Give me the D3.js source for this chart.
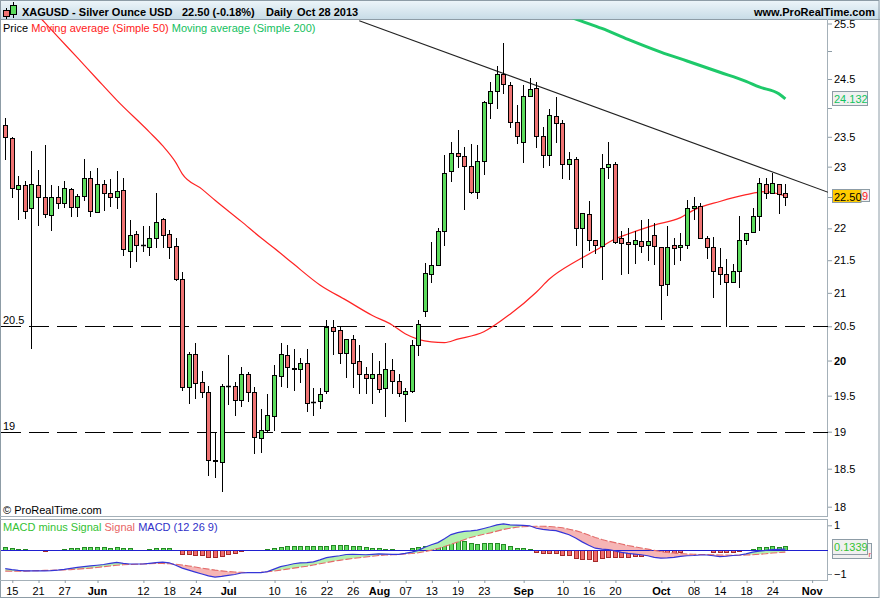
<!DOCTYPE html>
<html><head><meta charset="utf-8">
<script src="https://cdn.jsdelivr.net/npm/d3@7"></script>
<style>body{margin:0;background:#fff}svg{display:block;font-family:"Liberation Sans",Arial,sans-serif}</style>
</head><body><svg id="c" width="880" height="600"></svg>
<script>
// ---- DATA ----
const dates = [
"05-14","05-15","05-16","05-17","05-20","05-21","05-22","05-23","05-24","05-27","05-28","05-29","05-30","05-31",
"06-03","06-04","06-05","06-06","06-07","06-10","06-11","06-12","06-13","06-14","06-17","06-18","06-19","06-20","06-21","06-24","06-25","06-26","06-27","06-28",
"07-01","07-02","07-03","07-04","07-05","07-08","07-09","07-10","07-11","07-12","07-15","07-16","07-17","07-18","07-19","07-22","07-23","07-24","07-25","07-26","07-29","07-30","07-31",
"08-01","08-02","08-05","08-06","08-07","08-08","08-09","08-12","08-13","08-14","08-15","08-16","08-19","08-20","08-21","08-22","08-23","08-26","08-27","08-28","08-29","08-30",
"09-02","09-03","09-04","09-05","09-06","09-09","09-10","09-11","09-12","09-13","09-16","09-17","09-18","09-19","09-20","09-23","09-24","09-25","09-26","09-27","09-30",
"10-01","10-02","10-03","10-04","10-07","10-08","10-09","10-10","10-11","10-14","10-15","10-16","10-17","10-18","10-21","10-22","10-23","10-24","10-25","10-28"];
const futureDates = ["10-29","10-30","10-31","11-01","11-04","11-05","11-06"];

const opens = [23.70,23.48,22.64,22.69,22.32,22.70,22.50,22.22,22.51,22.40,
22.64,22.34,22.52,22.82,22.26,22.72,22.56,22.50,22.61,21.65,
21.91,21.74,21.70,21.85,22.15,21.91,21.72,21.21,19.62,20.10,
19.69,19.55,18.61,18.59,19.63,19.63,19.44,19.80,19.55,18.91,
19.02,19.22,19.78,20.08,19.89,19.88,19.96,19.41,19.43,19.56,
20.49,20.44,20.11,20.31,19.99,19.81,19.75,19.80,19.61,19.86,
19.71,19.52,19.56,20.23,20.72,21.29,21.43,21.96,22.92,23.23,
23.17,23.01,22.58,23.09,24.08,24.29,24.59,24.39,23.75,23.41,
24.20,24.34,23.52,23.20,23.86,23.73,23.05,23.13,22.00,22.23,
21.82,21.72,23.00,23.04,21.84,21.78,21.75,21.80,21.73,21.89,
21.70,21.13,21.73,21.70,21.73,22.32,22.36,21.85,21.71,21.39,
21.29,21.17,21.34,21.81,21.94,22.20,22.72,22.57,22.72,22.56];
const highs = [23.82,23.50,22.84,22.77,23.26,22.95,23.36,22.70,22.68,22.77,
22.65,22.55,23.13,22.92,22.98,22.78,22.79,22.92,22.82,22.13,
21.95,22.03,22.03,22.57,22.16,21.97,21.85,21.32,20.13,20.25,
19.85,19.64,19.00,19.66,20.08,19.70,19.91,19.84,19.62,19.32,
19.53,19.93,20.26,20.22,20.16,20.04,20.16,19.61,19.61,20.60,
20.59,20.49,20.31,20.37,20.22,19.91,20.11,19.99,20.26,20.02,
19.80,19.61,20.30,20.59,21.45,21.78,22.00,23.20,23.41,23.62,
23.33,23.38,23.36,24.12,24.44,24.73,25.15,24.44,24.04,24.39,
24.52,24.44,23.66,23.98,24.18,23.78,23.24,23.16,22.25,22.43,
21.82,23.21,23.41,23.07,21.96,22.01,21.95,22.13,22.15,22.09,
21.70,22.03,21.85,21.92,22.46,22.50,22.40,21.88,21.86,21.69,
21.52,21.44,22.20,21.93,22.32,22.81,22.81,22.89,22.72,22.72];
const lows = [23.13,22.50,22.15,22.17,20.18,22.06,22.18,21.97,22.33,22.34,
22.19,22.20,22.46,22.19,22.26,22.29,22.36,22.33,21.58,21.40,
21.48,21.64,21.58,21.70,21.70,21.53,21.19,19.58,19.40,19.47,
19.48,18.42,18.39,18.21,19.39,19.23,19.36,19.42,18.71,18.73,
19.01,19.03,19.63,19.62,19.58,19.69,19.28,19.23,19.33,19.54,
20.10,19.97,19.77,19.62,19.54,19.54,19.40,19.55,19.21,19.54,
19.50,19.15,19.55,20.08,20.65,21.17,21.43,21.73,22.77,23.00,
22.31,22.56,22.48,22.88,23.82,23.99,24.26,23.67,23.39,23.08,
24.20,23.33,23.00,23.03,23.41,22.81,22.80,21.74,21.40,21.66,
21.61,21.21,22.81,21.77,21.29,21.30,21.46,21.63,21.50,21.44,
20.61,20.96,21.44,21.50,21.69,22.15,21.84,21.54,20.94,21.13,
20.51,21.17,21.09,21.76,21.94,21.97,22.49,22.57,22.25,22.38];
const closes = [23.49,22.65,22.69,22.27,22.72,22.50,22.23,22.51,22.40,22.65,
22.34,22.52,22.82,22.27,22.72,22.56,22.50,22.60,21.67,21.89,
21.73,21.73,21.85,22.10,21.89,21.70,21.21,19.62,20.10,19.68,
19.55,18.61,18.60,19.63,19.64,19.44,19.81,19.55,18.93,19.02,
19.23,19.79,20.10,19.91,19.88,19.96,19.40,19.41,19.52,20.49,
20.43,20.11,20.31,19.97,19.80,19.75,19.81,19.60,19.88,19.71,
19.54,19.56,20.23,20.54,21.30,21.43,21.96,22.90,23.23,23.17,
23.01,22.58,23.09,24.10,24.29,24.59,24.41,23.75,23.52,24.21,
24.32,23.52,23.19,23.88,23.73,23.05,23.12,22.00,22.25,21.82,
21.74,22.98,23.04,21.78,21.77,21.75,21.81,21.72,21.80,21.72,
21.12,21.71,21.69,21.74,22.32,22.36,21.85,21.70,21.34,21.29,
21.17,21.34,21.81,21.93,22.20,22.73,22.56,22.73,22.55,22.50];

const ma50Dates = ["05-14","05-17","05-22","05-24","05-29","06-03","06-06","06-13","06-17","06-19","06-20","06-25","06-27","07-03","07-08","07-10","07-15","07-19","07-25","07-31","08-05","08-07","08-13","08-15","08-19","08-23","08-29","09-04","09-06","09-12","09-17","09-20","09-24","09-30","10-04","10-08","10-14","10-18","10-23","10-25","10-28"];
const ma50Values = [26.30,25.90,25.52,25.26,24.88,24.50,24.13,23.58,23.35,23.07,22.88,22.63,22.45,22.11,21.85,21.69,21.44,21.12,20.89,20.66,20.52,20.39,20.27,20.26,20.31,20.42,20.68,21.01,21.21,21.48,21.65,21.83,21.91,22.05,22.17,22.29,22.43,22.54,22.59,22.55,22.52];
const ma200Dates = ["09-10","09-13","09-18","09-24","10-01","10-07","10-14","10-18","10-22","10-25","10-28"];
const ma200Values = [25.67,25.54,25.41,25.21,24.98,24.82,24.62,24.46,24.36,24.24,24.15];

const trendDates = ["07-29","11-06"];
const trendValues = [25.55,22.56];

const supportLevels = [20.5, 19];

const macd = [-0.78,-0.82,-0.85,-0.87,-0.87,-0.87,-0.87,-0.86,-0.84,-0.81,
-0.77,-0.73,-0.70,-0.67,-0.64,-0.61,-0.56,-0.52,-0.56,-0.59,
-0.59,-0.59,-0.56,-0.53,-0.51,-0.54,-0.64,-0.76,-0.84,-0.92,
-1.00,-1.08,-1.13,-1.10,-1.06,-1.02,-0.96,-0.94,-0.94,-0.94,
-0.90,-0.80,-0.70,-0.64,-0.58,-0.54,-0.53,-0.50,-0.42,-0.33,
-0.29,-0.25,-0.20,-0.19,-0.20,-0.21,-0.19,-0.17,-0.18,-0.19,
-0.19,-0.15,-0.10,-0.03,0.10,0.20,0.29,0.45,0.62,0.70,
0.75,0.77,0.80,0.87,0.94,1.02,1.06,1.02,1.01,1.00,
0.98,0.88,0.83,0.80,0.78,0.70,0.61,0.48,0.32,0.18,
0.06,0.02,0.00,-0.05,-0.11,-0.15,-0.18,-0.21,-0.25,-0.32,
-0.35,-0.34,-0.32,-0.28,-0.25,-0.24,-0.22,-0.22,-0.25,-0.29,
-0.27,-0.24,-0.22,-0.17,-0.10,-0.06,-0.03,0.00,0.01,0.02];
const signal = [-0.88,-0.89,-0.89,-0.88,-0.87,-0.86,-0.85,-0.85,-0.84,-0.83,
-0.82,-0.80,-0.78,-0.76,-0.73,-0.70,-0.67,-0.64,-0.62,-0.61,
-0.60,-0.59,-0.58,-0.57,-0.57,-0.58,-0.60,-0.63,-0.67,-0.71,
-0.76,-0.80,-0.84,-0.87,-0.90,-0.92,-0.93,-0.94,-0.94,-0.93,
-0.91,-0.88,-0.84,-0.80,-0.76,-0.72,-0.68,-0.63,-0.58,-0.53,
-0.48,-0.44,-0.40,-0.36,-0.33,-0.30,-0.27,-0.24,-0.22,-0.21,
-0.20,-0.18,-0.16,-0.13,-0.08,-0.02,0.05,0.13,0.22,0.31,
0.41,0.50,0.57,0.63,0.69,0.76,0.83,0.88,0.92,0.94,
0.95,0.96,0.96,0.95,0.93,0.90,0.84,0.78,0.70,0.60,
0.50,0.42,0.35,0.29,0.23,0.17,0.12,0.07,0.02,-0.03,
-0.08,-0.12,-0.14,-0.16,-0.18,-0.19,-0.20,-0.20,-0.21,-0.22,
-0.22,-0.23,-0.23,-0.22,-0.21,-0.19,-0.17,-0.14,-0.12,-0.10];
const hist = [0.10,0.08,0.04,0.01,0,0,-0.05,-0.01,0,0.03,
0.05,0.06,0.09,0.09,0.09,0.09,0.08,0.12,0.05,0.05,
0,0,0.01,0.05,0.05,0.05,-0.03,-0.16,-0.18,-0.21,
-0.22,-0.31,-0.31,-0.28,-0.18,-0.12,-0.06,0,0,0,
0.01,0.08,0.12,0.16,0.16,0.16,0.16,0.13,0.16,0.17,
0.19,0.19,0.19,0.17,0.14,0.10,0.08,0.05,0.04,0.03,
0,0,0.05,0.10,0.15,0.20,0.26,0.30,0.39,0.39,
0.34,0.26,0.22,0.26,0.26,0.26,0.22,0.14,0.06,0.06,
0.03,-0.08,-0.14,-0.14,-0.14,-0.23,-0.23,-0.35,-0.39,-0.39,
-0.45,-0.35,-0.29,-0.29,-0.29,-0.29,-0.26,-0.26,-0.23,-0.23,
-0.23,-0.20,-0.14,-0.11,-0.03,-0.02,-0.01,-0.02,-0.08,-0.08,
-0.11,-0.08,-0.07,-0.02,0.04,0.10,0.10,0.15,0.11,0.134];

const priceTicks = [25.5,24.5,23.5,23,22,21.5,21,20.5,20,19.5,19,18.5,18];
const priceMinorTicks = [25,24,22.5];
const macdTicks = [1,-1];
const dateTickDates = ["05-15","05-21","05-27","06-03","06-12","06-18","06-24","07-01","07-10","07-16","07-22","07-26","08-01","08-07","08-13","08-19","08-23","09-02","09-10","09-16","09-20","10-01","10-08","10-14","10-18","10-24","11-01"];
const dateTickLabels = ["15","21","27","Jun","12","18","24","Jul","10","16","22","26","Aug","07","13","19","23","Sep","10","16","20","Oct","08","14","18","24","Nov"];
const monthLabels = ["Jun","Jul","Aug","Sep","Oct","Nov"];

// ---- SCALES ----
const allDates = dates.concat(futureDates);
const x = d3.scaleLinear().domain([-0.8, 125.5]).range([0, 828]);
const xd = d => x(allDates.indexOf(d));
const y = d3.scaleLog().domain([18, 24.5]).range([506.7, 79]);
const ym = d3.scaleLinear().domain([-1, 1]).range([574, 525.3]);

const svg = d3.select("#c");
const defs = svg.append("defs");
const gr = defs.append("linearGradient").attr("id","hdr").attr("x1",0).attr("y1",0).attr("x2",0).attr("y2",1);
gr.append("stop").attr("offset","0%").attr("stop-color","#eef6fa");
gr.append("stop").attr("offset","100%").attr("stop-color","#c8dce7");
defs.append("clipPath").attr("id","mainClip").append("rect").attr("x",1).attr("y",19.5).attr("width",827).attr("height",496.5);
defs.append("clipPath").attr("id","macdClip").append("rect").attr("x",1).attr("y",520).attr("width",827).attr("height",60);

svg.append("rect").attr("width",880).attr("height",600).attr("fill","#fff");

// header
svg.append("rect").attr("x",0).attr("y",0).attr("width",880).attr("height",19).attr("fill","url(#hdr)");
svg.append("line").attr("x1",0).attr("x2",880).attr("y1",19.5).attr("y2",19.5).attr("stroke","#8d9ca6");
// icon
const ic = svg.append("g");
ic.append("line").attr("x1",6.5).attr("x2",6.5).attr("y1",8).attr("y2",19).attr("stroke","#000");
ic.append("rect").attr("x",3.5).attr("y",10.5).attr("width",6).attr("height",6).attr("fill","#ef7373").attr("stroke","#000");
ic.append("line").attr("x1",13.5).attr("x2",13.5).attr("y1",2).attr("y2",18).attr("stroke","#000");
ic.append("rect").attr("x",10.5).attr("y",5.5).attr("width",6).attr("height",9).attr("fill","#5cdc5c").attr("stroke","#000");

const hdrText = [["XAGUSD - Silver Ounce USD",22],["22.50 (-0.18%)",182],["Daily",266],["Oct 28 2013",297]];
svg.selectAll(".ht").data(hdrText).join("text").attr("x",d=>d[1]).attr("y",15.5)
  .attr("font-size",11).attr("font-weight","bold").text(d=>d[0]);
svg.append("text").attr("x",875).attr("y",15.5).attr("text-anchor","end").attr("font-size",11).attr("font-weight","bold").text("www.ProRealTime.com");

// frame
svg.append("rect").attr("x",0.5).attr("y",0.5).attr("width",878.5).attr("height",597).attr("fill","none").attr("stroke","#8d9ca6");
svg.append("line").attr("x1",0).attr("x2",828).attr("y1",516.5).attr("y2",516.5).attr("stroke","#a4b0b8");
svg.append("line").attr("x1",0).attr("x2",828).attr("y1",519.5).attr("y2",519.5).attr("stroke","#a4b0b8");
svg.append("line").attr("x1",0).attr("x2",828).attr("y1",580.5).attr("y2",580.5).attr("stroke","#a4b0b8");
svg.append("line").attr("x1",827.5).attr("x2",827.5).attr("y1",19).attr("y2",517).attr("stroke","#a4b0b8");
svg.append("line").attr("x1",827.5).attr("x2",827.5).attr("y1",519).attr("y2",581).attr("stroke","#a4b0b8");

// legend
const leg = svg.append("text").attr("x",3).attr("y",32).attr("font-size",11);
leg.append("tspan").attr("fill","#000").text("Price ");
leg.append("tspan").attr("fill","#ff1a1a").text("Moving average (Simple 50) ");
leg.append("tspan").attr("fill","#14c060").text("Moving average (Simple 200)");

// main plot
const main = svg.append("g").attr("clip-path","url(#mainClip)");
supportLevels.forEach(v=>{
  const yy = Math.round(y(v))+0.5;
  main.append("line").attr("x1",1).attr("x2",828).attr("y1",yy).attr("y2",yy)
    .attr("stroke","#000").attr("stroke-dasharray","20,8");
  main.append("text").attr("x",3).attr("y",yy-3).attr("font-size",11).text(String(v));
});

const lineGen = d3.line().x(d=>xd(d[0])).y(d=>y(d[1])).curve(d3.curveMonotoneX);
main.append("path").datum(ma50Dates.map((d,i)=>[d,ma50Values[i]])).attr("d",lineGen)
  .attr("fill","none").attr("stroke","#ff2424").attr("stroke-width",1.2);
main.append("path").datum(ma200Dates.map((d,i)=>[d,ma200Values[i]])).attr("d",lineGen)
  .attr("fill","none").attr("stroke","#1ec96a").attr("stroke-width",3);
main.append("path").datum(trendDates.map((d,i)=>[d,trendValues[i]])).attr("d",d3.line().x(d=>xd(d[0])).y(d=>y(d[1])))
  .attr("fill","none").attr("stroke","#222").attr("stroke-width",1.1);

const cg = main.append("g");
dates.forEach((d,i)=>{
  const cx = Math.round(xd(d));
  const o = opens[i], c = closes[i];
  cg.append("line").attr("x1",cx+0.5).attr("x2",cx+0.5).attr("y1",Math.round(y(highs[i]))).attr("y2",Math.round(y(lows[i]))+1)
    .attr("stroke","#000");
  const yt = Math.round(y(Math.max(o,c))), yb = Math.round(y(Math.min(o,c)));
  if (yb - yt < 1) {
    cg.append("line").attr("x1",cx-2).attr("x2",cx+3).attr("y1",yt+0.5).attr("y2",yt+0.5).attr("stroke","#000").attr("stroke-width",1.5);
  } else {
    cg.append("rect").attr("x",cx-1.5).attr("y",yt+0.5).attr("width",4).attr("height",yb-yt)
      .attr("fill", c>o ? "#5cdc5c" : "#ef7373").attr("stroke","#000");
  }
});

svg.append("text").attr("x",3).attr("y",514).attr("font-size",11).text("\u00a9 ProRealTime.com");

// price axis
const pAxis = svg.append("g").attr("transform","translate(828,0)")
  .call(d3.axisRight(y).tickValues(priceTicks).tickFormat(d3.format("")).tickSize(4).tickPadding(2).tickSizeOuter(0));
pAxis.select(".domain").remove();
pAxis.selectAll("line").attr("stroke","#8d9ca6");
pAxis.selectAll("text").attr("font-size",11).attr("font-family","Liberation Sans, Arial, sans-serif").attr("fill","#000")
  .attr("font-weight",d=>d===20?"bold":"normal");
svg.selectAll(".minor").data(priceMinorTicks).join("line").attr("x1",828).attr("x2",832)
  .attr("y1",d=>Math.round(y(d))+0.5).attr("y2",d=>Math.round(y(d))+0.5).attr("stroke","#8d9ca6");

// value labels
const lab = svg.append("g").attr("font-size",11);
lab.append("rect").attr("x",832.5).attr("y",91.5).attr("width",35).attr("height",14).attr("fill","#f0f0f0").attr("stroke","#8d9ca6");
lab.append("text").attr("x",834).attr("y",102.5).attr("fill","#12c45e").text("24.132");
lab.append("rect").attr("x",832.5).attr("y",189.5).attr("width",37).attr("height",12).attr("fill","#f0f0f0").attr("stroke","#8d9ca6");
lab.append("text").attr("x",862).attr("y",199.5).attr("fill","#ff1a1a").text("9");
lab.append("rect").attr("x",832.5).attr("y",189.5).attr("width",28.5).attr("height",13).attr("fill","#ffcc00").attr("stroke","#8d9ca6");
lab.append("text").attr("x",834).attr("y",200.5).attr("fill","#000").text("22.50");

// MACD panel
const mp = svg.append("g").attr("clip-path","url(#macdClip)");
const xi = (dd,i)=>x(i);
defs.append("clipPath").attr("id","aboveSig").append("path")
  .attr("d", d3.area().x(xi).y0(519).y1((d,i)=>ym(signal[i]))(macd));
defs.append("clipPath").attr("id","belowSig").append("path")
  .attr("d", d3.area().x(xi).y0(581).y1((d,i)=>ym(signal[i]))(macd));
const between = d3.area().x(xi).y0((d,i)=>ym(signal[i])).y1((d,i)=>ym(macd[i]));

const y0 = Math.round(ym(0))+0.5;
hist.forEach((h,i)=>{
  const cx = Math.round(x(i));
  const yv = Math.round(ym(h));
  const hh = Math.abs(yv - Math.round(ym(0)));
  if (hh < 1) return;
  mp.append("rect").attr("x",cx-1.5).attr("y",(h>0?yv:Math.round(ym(0)))+0.5).attr("width",4).attr("height",hh)
    .attr("fill",h>0?"#62dc62":"#ef6b6b").attr("stroke",h>0?"#238a23":"#a52a2a");
});
mp.append("path").datum(macd).attr("d",between).attr("fill","#b4f0ae").attr("clip-path","url(#aboveSig)");
mp.append("path").datum(macd).attr("d",between).attr("fill","#f6b5b5").attr("clip-path","url(#belowSig)");
mp.append("line").attr("x1",1).attr("x2",828).attr("y1",y0).attr("y2",y0).attr("stroke","#1f1fd0");
mp.append("path").datum(signal).attr("d",d3.line().x(xi).y(d=>ym(d)))
  .attr("fill","none").attr("stroke","#e46a6a").attr("stroke-width",1.1).attr("stroke-dasharray","7,2");
mp.append("path").datum(macd).attr("d",d3.line().x(xi).y(d=>ym(d)))
  .attr("fill","none").attr("stroke","#3535d8").attr("stroke-width",1.2);

const ml = svg.append("text").attr("x",3).attr("y",530.5).attr("font-size",11);
ml.append("tspan").attr("fill","#33c233").text("MACD minus Signal ");
ml.append("tspan").attr("fill","#e86464").text("Signal ");
ml.append("tspan").attr("fill","#3030c8").text("MACD (12 26 9)");

const mAxis = svg.append("g").attr("transform","translate(828,0)")
  .call(d3.axisRight(ym).tickValues(macdTicks).tickFormat(d3.format("")).tickSize(4).tickPadding(2).tickSizeOuter(0));
mAxis.select(".domain").remove();
mAxis.selectAll("line").attr("stroke","#8d9ca6");
mAxis.selectAll("text").attr("font-size",11).attr("font-family","Liberation Sans, Arial, sans-serif").attr("fill","#000");
lab.append("rect").attr("x",832.5).attr("y",543.5).attr("width",39).attr("height",15).attr("fill","#f0f0f0").attr("stroke","#8d9ca6");
lab.append("text").attr("x",868.5).attr("y",557).attr("font-size",8).attr("fill","#e64646").text("r");
lab.append("rect").attr("x",832.5).attr("y",539.5).attr("width",35).attr("height",15).attr("fill","#f0f0f0").attr("stroke","#8d9ca6");
lab.append("text").attr("x",834).attr("y",551).attr("fill","#33c233").text("0.1339");

// date axis
const dAxis = svg.append("g").attr("transform","translate(0,580)")
  .call(d3.axisBottom(x).tickValues(dateTickDates.map(d=>allDates.indexOf(d)))
    .tickFormat((d,i)=>dateTickLabels[i]).tickSize(3).tickPadding(4).tickSizeOuter(0));
dAxis.select(".domain").remove();
dAxis.selectAll("line").attr("stroke","#8d9ca6").attr("transform","translate(0.5,0)");
dAxis.selectAll("text").attr("font-size",11).attr("font-family","Liberation Sans, Arial, sans-serif").attr("fill","#000")
  .attr("font-weight",(d,i)=>monthLabels.includes(dateTickLabels[i])?"bold":"normal");
</script></body></html>
